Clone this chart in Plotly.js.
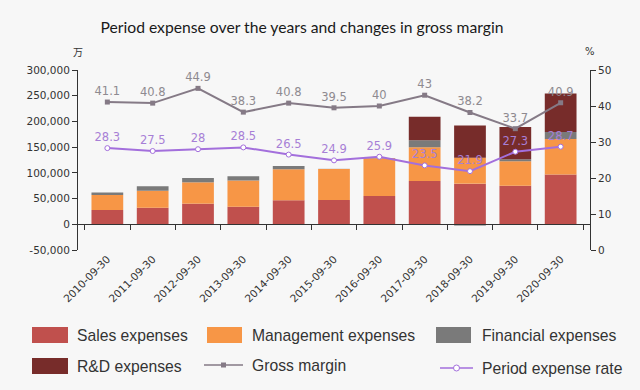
<!DOCTYPE html>
<html>
<head>
<meta charset="utf-8">
<script src="https://cdn.plot.ly/plotly-3.0.1.min.js"></script>
<style>
html,body{margin:0;padding:0;background:#f7f7f7;}
#chart{width:640px;height:390px;}
</style>
</head>
<body>
<div id="chart"></div>
<script>
// ---- data ----
const categories = ["2010-09-30","2011-09-30","2012-09-30","2013-09-30","2014-09-30","2015-09-30","2016-09-30","2017-09-30","2018-09-30","2019-09-30","2020-09-30"];
const salesExpenses = [27800, 32300, 40100, 34300, 46600, 47200, 55000, 84200, 79000, 75100, 97000];
const managementExpenses = [29000, 33000, 41500, 50600, 60300, 60300, 73300, 65500, 50500, 47400, 68900];
const financialExpenses = [5000, 8500, 8400, 8400, 6500, 300, 400, 13600, -2500, 4200, 13600];
const rdExpenses = [0, 0, 0, 0, 0, 0, 0, 45900, 62500, 62600, 74600];
const grossMargin = [41.1, 40.8, 44.9, 38.3, 40.8, 39.5, 40, 43, 38.2, 33.7, 40.9];
const periodExpenseRate = [28.3, 27.5, 28, 28.5, 26.5, 24.9, 25.9, 23.5, 21.9, 27.3, 28.7];
const seriesNames = ["Sales expenses","Management expenses","Financial expenses","R&D expenses","Gross margin","Period expense rate"];
const leftTicks = [-50000, 0, 50000, 100000, 150000, 200000, 250000, 300000];
const rightTicks = [0, 10, 20, 30, 40, 50];

// ---- styles ----
const colors = ["#c0504d","#f79646","#7a7a7a","#772c2a","#857a86","#a36fdc"];
const tickFont = {family:"DejaVu Sans", size:10.5, color:"#333"};

const barData = [salesExpenses, managementExpenses, financialExpenses, rdExpenses];
const traces = barData.map((vals,i)=>({
  type:"bar", name:seriesNames[i], x:categories, y:vals,
  marker:{color:colors[i]}, xaxis:"x", yaxis:"y", showlegend:false, hoverinfo:"skip"
}));
traces.push({
  type:"scatter", mode:"lines+markers+text", name:seriesNames[4], x:categories, y:grossMargin,
  yaxis:"y2", line:{color:colors[4], width:2}, marker:{symbol:"square", size:5, color:colors[4]},
  text:grossMargin.map(String), textposition:"top center",
  textfont:{family:"DejaVu Sans", size:11.5, color:"#8e8a90"}, showlegend:false, cliponaxis:false
});
traces.push({
  type:"scatter", mode:"lines+markers+text", name:seriesNames[5], x:categories, y:periodExpenseRate,
  yaxis:"y2", line:{color:colors[5], width:2}, marker:{symbol:"circle", size:5, color:"#fff", line:{color:colors[5], width:1}},
  text:periodExpenseRate.map(String), textposition:"top center",
  textfont:{family:"DejaVu Sans", size:11.5, color:"#a77fd6"}, showlegend:false, cliponaxis:false
});
// helper trace to carry the zero-line category axis
traces.push({
  type:"scatter", mode:"markers", x:categories, y:categories.map(()=>0), xaxis:"x2", yaxis:"y",
  marker:{opacity:0}, showlegend:false, hoverinfo:"skip"
});

// ---- custom legend (pixel positions converted to paper) ----
const L=78, R=590, T=70, B=250;
const px = v => (v-L)/(R-L);
const py = v => (B-v)/(B-T);
const shapes=[], annotations=[];
const legendItems = [
  {kind:"bar", i:0, x0:32, x1:68, cy:335, tx:75},
  {kind:"bar", i:1, x0:207, x1:242, cy:335, tx:250},
  {kind:"bar", i:2, x0:436, x1:471, cy:335, tx:480},
  {kind:"bar", i:3, x0:32, x1:68, cy:366, tx:75},
  {kind:"sq", i:4, x0:204, x1:243, cy:365, tx:250},
  {kind:"ci", i:5, x0:440, x1:473, cy:368, tx:480}
];
legendItems.forEach(it=>{
  if(it.kind==="bar"){
    shapes.push({type:"rect", xref:"paper", yref:"paper", x0:px(it.x0), x1:px(it.x1), y0:py(it.cy+8), y1:py(it.cy-8), fillcolor:colors[it.i], line:{width:0}});
  } else {
    shapes.push({type:"line", xref:"paper", yref:"paper", x0:px(it.x0), x1:px(it.x1), y0:py(it.cy), y1:py(it.cy), line:{color:colors[it.i], width:1.3}});
    const m=(it.x0+it.x1)/2;
    if(it.kind==="sq"){
      shapes.push({type:"rect", xref:"paper", yref:"paper", x0:px(m-2.5), x1:px(m+2.5), y0:py(it.cy+2.5), y1:py(it.cy-2.5), fillcolor:colors[it.i], line:{width:0}});
    } else {
      shapes.push({type:"circle", xref:"paper", yref:"paper", x0:px(m-3), x1:px(m+3), y0:py(it.cy+3), y1:py(it.cy-3), fillcolor:"#fff", line:{color:colors[it.i], width:1}});
    }
  }
  annotations.push({xref:"paper", yref:"paper", x:px(it.tx), y:py(it.cy), xanchor:"left", yanchor:"middle",
    text:seriesNames[it.i], showarrow:false, font:{family:"Liberation Sans", size:15.7, color:"#333"}});
});
annotations.push({xref:"paper", yref:"paper", x:0, y:py(52), xanchor:"center", yanchor:"middle", text:"万", showarrow:false, font:{family:"Noto Sans CJK SC", size:10, color:"#333"}});
annotations.push({xref:"paper", yref:"paper", x:1, y:py(52), xanchor:"center", yanchor:"middle", text:"%", showarrow:false, font:{family:"DejaVu Sans", size:10, color:"#333"}});

const layout = {
  width:640, height:390,
  paper_bgcolor:"#f7f7f7", plot_bgcolor:"#f7f7f7",
  margin:{l:L, r:640-R, t:T, b:390-B},
  barmode:"relative", bargap:0.3,
  showlegend:false,
  title:{text:"Period expense over the years and changes in gross margin", x:302/640, xanchor:"center", y:1-28/390, yanchor:"middle",
    font:{family:"Lato", size:15.7, color:"#1a1a1a"}},
  xaxis:{type:"category", categoryarray:categories, showline:false, ticks:"", tickangle:-45, tickfont:tickFont, showgrid:false, zeroline:false, automargin:false},
  xaxis2:{type:"category", categoryarray:categories, overlaying:"x", anchor:"free", position:50000/350000, matches:"x",
    showline:true, linecolor:"#333", linewidth:1, ticks:"outside", ticklen:5, tickcolor:"#333", tickson:"boundaries", showticklabels:false, showgrid:false, zeroline:false},
  yaxis:{range:[-50000,300000], tickmode:"array", tickvals:leftTicks, ticktext:leftTicks.map(v=>v.toLocaleString("en-US")),
    showline:true, linecolor:"#333", ticks:"outside", ticklen:5, tickcolor:"#333",
    tickfont:tickFont, showgrid:false, zeroline:false, automargin:false},
  yaxis2:{range:[0,50], tickmode:"array", tickvals:rightTicks, ticktext:rightTicks.map(String), overlaying:"y", side:"right", showline:true, linecolor:"#333", ticks:"outside", ticklen:5, tickcolor:"#333",
    tickfont:tickFont, showgrid:false, zeroline:false, automargin:false},
  shapes:shapes, annotations:annotations
};
Plotly.newPlot("chart", traces, layout, {displayModeBar:false, staticPlot:true});
</script>
</body>
</html>
